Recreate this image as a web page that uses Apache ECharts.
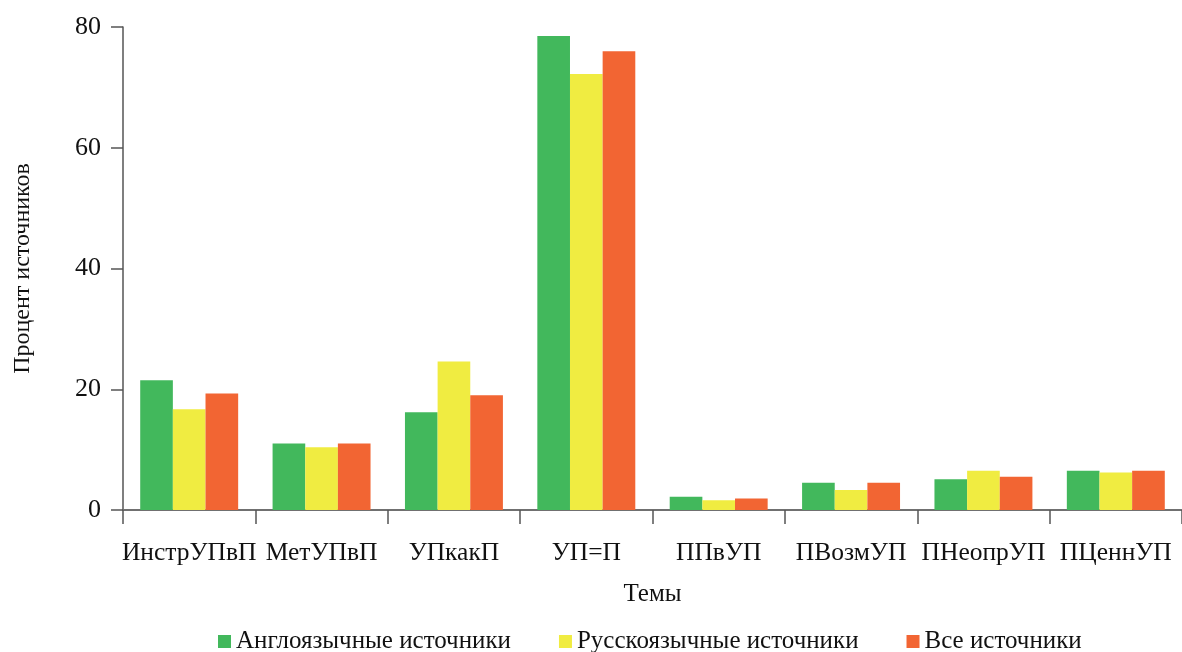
<!DOCTYPE html>
<html>
<head>
<meta charset="utf-8">
<script src="https://cdn.jsdelivr.net/npm/echarts@6/dist/echarts.min.js"></script>
<style>html,body{margin:0;padding:0;background:#fff}#c{width:1182px;height:652px}</style>
</head>
<body>
<div id="c"></div>
<script>
const categories = ['ИнстрУПвП','МетУПвП','УПкакП','УП=П','ППвУП','ПВозмУП','ПНеопрУП','ПЦеннУП'];
const seriesNames = ['Англоязычные источники','Русскоязычные источники','Все источники'];
const english = [21.5, 11.0, 16.2, 78.5, 2.2, 4.5, 5.1, 6.5];
const russian = [16.7, 10.4, 24.6, 72.2, 1.6, 3.3, 6.5, 6.2];
const allSrc  = [19.3, 11.0, 19.0, 76.0, 1.9, 4.5, 5.5, 6.5];
const yTicks = [0, 20, 40, 60, 80];

const font = 'Liberation Serif';
const chart = echarts.init(document.getElementById('c'));
chart.setOption({
  animation: false,
  textStyle: {fontFamily: font, color: '#111'},
  color: ['#42b85c', '#f0ec41', '#f26533'],
  grid: {left: 123, right: 0, top: 27, bottom: 142},
  legend: {
    data: seriesNames,
    top: 624, left: 213,
    icon: 'rect', itemWidth: 13, itemHeight: 13, itemGap: 48,
    textStyle: {fontFamily: font, fontSize: 25, color: '#111'}
  },
  xAxis: {
    type: 'category', data: categories,
    name: 'Темы', nameLocation: 'middle', nameGap: 72,
    nameTextStyle: {fontFamily: font, fontSize: 25, color: '#111'},
    axisLine: {lineStyle: {color: '#707070', width: 2}},
    axisTick: {show: true, interval: 0, length: 14, lineStyle: {color: '#555', width: 1.5}},
    axisLabel: {fontFamily: font, fontSize: 25.5, color: '#111', margin: 30, interval: 0}
  },
  yAxis: {
    type: 'value', min: yTicks[0], max: yTicks[yTicks.length - 1], interval: 20,
    name: 'Процент источников', nameLocation: 'middle', nameGap: 88,
    nameTextStyle: {fontFamily: font, fontSize: 24, color: '#111'},
    axisLine: {show: true, lineStyle: {color: '#555', width: 1.5}},
    axisTick: {show: true, length: 12, lineStyle: {color: '#555', width: 1.5}},
    axisLabel: {fontFamily: font, fontSize: 26, color: '#111', margin: 22},
    splitLine: {show: false}
  },
  series: [
    {name: seriesNames[0], type: 'bar', data: english, barGap: '0%', barCategoryGap: '26%'},
    {name: seriesNames[1], type: 'bar', data: russian, barGap: '0%', barCategoryGap: '26%'},
    {name: seriesNames[2], type: 'bar', data: allSrc, barGap: '0%', barCategoryGap: '26%'}
  ]
});
</script>
</body>
</html>
